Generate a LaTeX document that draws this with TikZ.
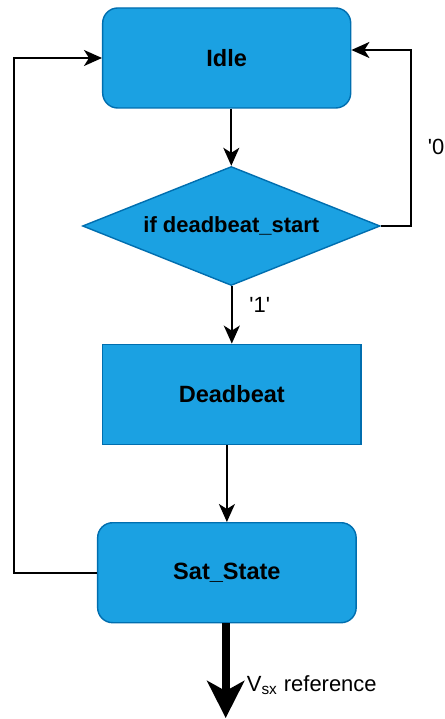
\documentclass[tikz,border=0pt]{standalone}
\usepackage{tikz}
\usepackage{xcolor}
\usepackage{fontspec}
\setmainfont{Liberation Sans}
\usetikzlibrary{shapes.geometric, arrows.meta, positioning}
\definecolor{state-blue}{RGB}{27,161,226}
\definecolor{state-edge}{RGB}{0,110,175}

\begin{document}
\begin{tikzpicture}[
  box/.style={draw=state-edge, fill=state-blue, line width=0.8pt, minimum width=5.17cm, minimum height=2cm, align=center, font=\fontsize{13.4}{16}\selectfont\bfseries},
  rbox/.style={box, rounded corners=0.3cm},
  decision/.style={box, diamond, aspect=2.5, inner sep=0pt, minimum width=5.95cm, minimum height=2.38cm, font=\fontsize{12.5}{15}\selectfont\bfseries},
  arr/.style={-{Stealth[length=0.36cm, width=0.32cm, inset=0.1cm]}, line width=1.1pt},
  lbl/.style={font=\fontsize{12.5}{15}\selectfont, anchor=west, inner sep=0pt},
]
  \useasboundingbox (0,0) rectangle (8.9,-14.38);

  % States
  \node[rbox, minimum width=4.96cm] (idle) at (4.534,-1.16) {Idle};
  \node[decision] (dec) at (4.626,-4.52) {if deadbeat\_start};
  \node[box] (dead) at (4.636,-7.886) {Deadbeat};
  \node[rbox] (sat) at (4.538,-11.454) {Sat\_State};

  % Output
  \coordinate (out) at (4.514,-14.36);
  \coordinate (back) at (0.28,0);

  % Labels
  \node[lbl] (zero) at (8.55,-2.94) {\textquotesingle0\textquotesingle};
  \node[lbl] (one) at (4.98,-6.1) {\textquotesingle1\textquotesingle};
  \node[lbl] (vref) at (4.93,-13.7) {V\textsubscript{sx} reference};

  % Arrows
  \draw[arr] (dec.north |- idle.south) -- (dec.north);
  \draw[arr] (dead.north |- dec.south) -- (dead.north);
  \draw[arr] (sat.north |- dead.south) -- (sat.north);
  \draw[arr] (dec.east) -- ++(0.6,0) |- ([yshift=0.16cm]idle.east);
  \draw[arr] (sat.west) -- (sat.west -| back) |- (idle.west);
  \draw[-{Stealth[length=0.74cm, width=0.74cm, inset=0.2cm]}, line width=4.5pt] (out |- sat.south) -- (out);
\end{tikzpicture}
\end{document}
